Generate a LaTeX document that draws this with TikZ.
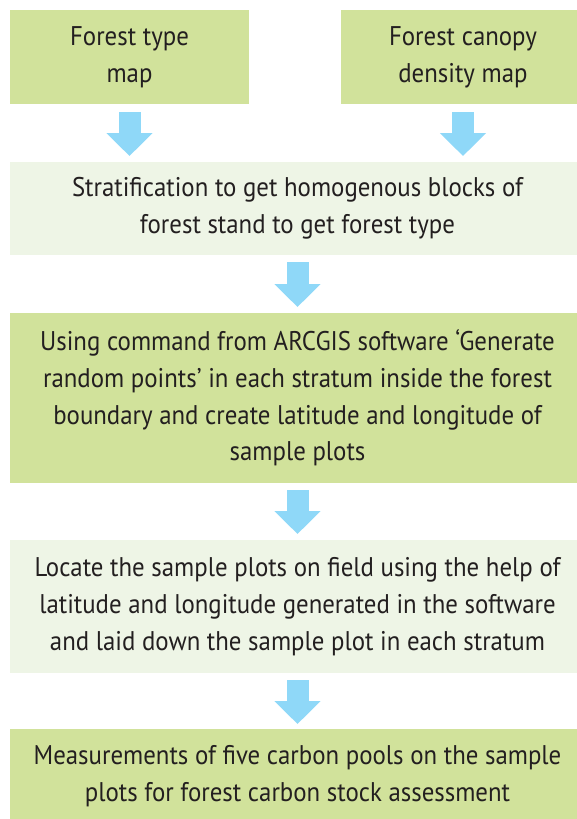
\documentclass[tikz,border=0pt]{standalone}
\usepackage{fontspec}
\setmainfont{PT Sans}[FakeStretch=0.92]
\usetikzlibrary{arrows.meta,calc}
\definecolor{darkbox}{HTML}{D1E29B}
\definecolor{lightbox}{HTML}{EEF5E6}
\definecolor{arrowblue}{HTML}{8FD8F8}
\definecolor{txt}{HTML}{231F20}
\begin{document}
\begin{tikzpicture}[x=1pt,y=1pt,
  boxbase/.style={inner sep=0pt, outer sep=0pt, align=center, text=txt,
    font={\fontsize{27}{36.7}\selectfont}},
  darkfill/.style={boxbase, fill=darkbox},
  lightfill/.style={boxbase, fill=lightbox},
  bigarrow/.style={draw=arrowblue, line width=22pt,
    -{Triangle[width=45pt,length=23pt]}}]
\useasboundingbox (0,0) rectangle (577,-819);
\clip (0,0) rectangle (577,-819);
\node[darkfill, minimum width=239, minimum height=94] (b1) at (129.5,-57) {Forest type\\map};
\node[darkfill, minimum width=244, minimum height=94] (b2) at (463,-57) {Forest canopy\\density map};
\node[lightfill, minimum width=575, minimum height=93] (b3) at (297.5,-208.5) {Stratification to get homogenous blocks of\\forest stand to get forest type};
\node[darkfill, minimum width=575, minimum height=170] (b4) at (297.5,-398) {Using command from ARCGIS software ‘Generate\\random points’ in each stratum inside the forest\\boundary and create latitude and longitude of\\sample plots};
\node[lightfill, minimum width=575, minimum height=133] (b5) at (297.5,-606.5) {Locate the sample plots on field using the help of\\latitude and longitude generated in the software\\and laid down the sample plot in each stratum};
\node[darkfill, minimum width=575, minimum height=94] (b6) at (297.5,-776) {Measurements of five carbon pools on the sample\\plots for forest carbon stock assessment};
\draw[bigarrow] ([yshift=-8pt]b1.south) -- ([yshift=6pt]b3.north -| b1.south);
\draw[bigarrow] ([yshift=-8pt]b2.south) -- ([yshift=6pt]b3.north -| b2.south);
\draw[bigarrow] ([yshift=-7pt]b3.south) -- ([yshift=6pt]b4.north);
\draw[bigarrow] ([yshift=-7pt]b4.south) -- ([yshift=6pt]b5.north);
\draw[bigarrow] ([yshift=-7pt]b5.south) -- ([yshift=5pt]b6.north);
\end{tikzpicture}
\end{document}
